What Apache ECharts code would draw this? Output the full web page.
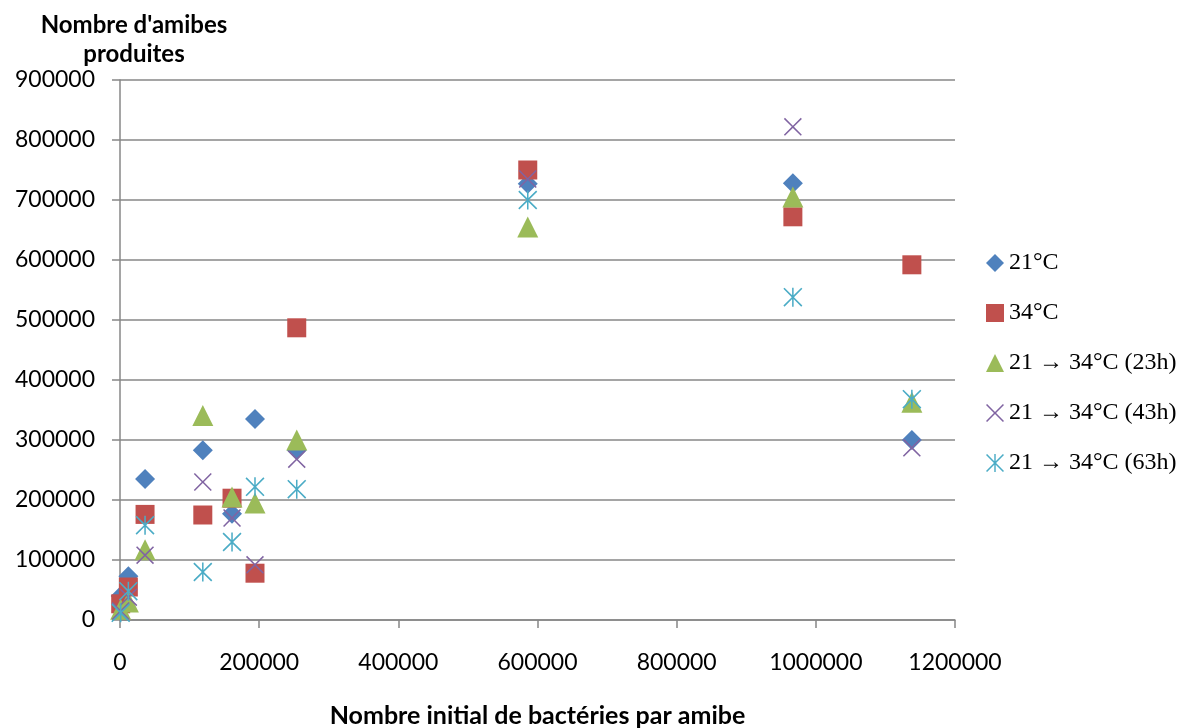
<!DOCTYPE html>
<html>
<head>
<meta charset="utf-8">
<script src="https://cdn.jsdelivr.net/npm/echarts@6/dist/echarts.min.js"></script>
<style>
html,body{margin:0;padding:0;background:#fff;}
#chart{width:1195px;height:728px;}
</style>
</head>
<body>
<div id="chart"></div>
<script>
// Initial bacteria per amoeba (x values)
const xValues = [1000, 12000, 36000, 119000, 161000, 194000, 254000, 586000, 967000, 1138000];
// Amoebae produced per condition
const s21 = [40000, 73000, 235000, 283000, 177000, 335000, 283000, 727000, 728000, 300000];
const s34 = [27000, 55000, 176000, 175000, 203000, 78000, 487000, 750000, 672000, 592000];
const s23h = [18000, 30000, 117000, 341000, 205000, 195000, 300000, 655000, 705000, 363000];
const s43h = [15000, 38000, 108000, 230000, 170000, 92000, 268000, 735000, 822000, 287000];
const s63h = [12000, 48000, 158000, 80000, 130000, 222000, 218000, 700000, 538000, 368000];
const seriesNames = ['21°C', '34°C', '21 → 34°C (23h)', '21 → 34°C (43h)', '21 → 34°C (63h)'];
const yTicks = [0, 100000, 200000, 300000, 400000, 500000, 600000, 700000, 800000, 900000];
const xTicks = [0, 200000, 400000, 600000, 800000, 1000000, 1200000];

const colors = ['#4F81BD', '#C0504D', '#9BBB59', '#8064A2', '#4BACC6'];
const xPath = 'path://M0,6 L6,0 L50,44 L94,0 L100,6 L56,50 L100,94 L94,100 L50,56 L6,100 L0,94 L44,50 Z';
const starPath = 'path://M0,6 L6,0 L50,44 L94,0 L100,6 L56,50 L100,94 L94,100 L50,56 L6,100 L0,94 L44,50 Z M46,0 L54,0 L54,100 L46,100 Z';
const symbols = ['diamond', 'rect', 'triangle', xPath, starPath];
const sizes = [20, 19, 21, 18, 19];
const allData = [s21, s34, s23h, s43h, s63h];

const chart = echarts.init(document.getElementById('chart'), null, {renderer: 'canvas'});
const axisFont = 'Lato, "Open Sans", sans-serif';
chart.setOption({
  animation: false,
  backgroundColor: '#ffffff',
  grid: {left: 120, right: 240, top: 80, bottom: 108, containLabel: false, outerBoundsMode: 'none'},
  xAxis: {
    type: 'value', min: xTicks[0], max: xTicks[xTicks.length - 1], interval: 200000,
    name: 'Nombre initial de bactéries par amibe',
    nameLocation: 'middle', nameGap: 83,
    nameTextStyle: {fontFamily: axisFont, fontWeight: 'bold', fontSize: 25, color: '#000'},
    axisLine: {show: true, lineStyle: {color: '#878787', width: 1.5}},
    axisTick: {show: true, length: 8, inside: false, lineStyle: {color: '#878787', width: 1.5}},
    axisLabel: {fontFamily: axisFont, fontSize: 23, color: '#000', margin: 31, formatter: v => String(v)},
    splitLine: {show: false}
  },
  yAxis: {
    type: 'value', min: yTicks[0], max: yTicks[yTicks.length - 1], interval: 100000,
    name: "Nombre d'amibes\nproduites",
    nameLocation: 'end', nameGap: 5,
    nameTextStyle: {fontFamily: axisFont, fontWeight: 'bold', fontSize: 24, color: '#000', align: 'center', lineHeight: 29, padding: [0, 0, 0, 28]},
    axisLine: {show: true, lineStyle: {color: '#878787', width: 1.5}},
    axisTick: {show: true, length: 8, inside: false, lineStyle: {color: '#878787', width: 1.5}},
    axisLabel: {fontFamily: axisFont, fontSize: 23, color: '#000', margin: 25, formatter: v => String(v)},
    splitLine: {show: true, lineStyle: {color: '#878787', width: 1.5}}
  },
  legend: {
    orient: 'vertical', left: 981, top: 246,
    itemWidth: 18, itemHeight: 18, itemGap: 26,
    textStyle: {fontFamily: '"Liberation Serif", "DejaVu Serif", serif', fontSize: 24, color: '#000', lineHeight: 22},
    data: seriesNames
  },
  series: allData.map((d, i) => ({
    name: seriesNames[i],
    type: 'scatter',
    symbol: symbols[i],
    symbolSize: sizes[i],
    itemStyle: {color: colors[i], opacity: 1},
    data: xValues.map((x, j) => [x, d[j]])
  }))
});
</script>
</body>
</html>
